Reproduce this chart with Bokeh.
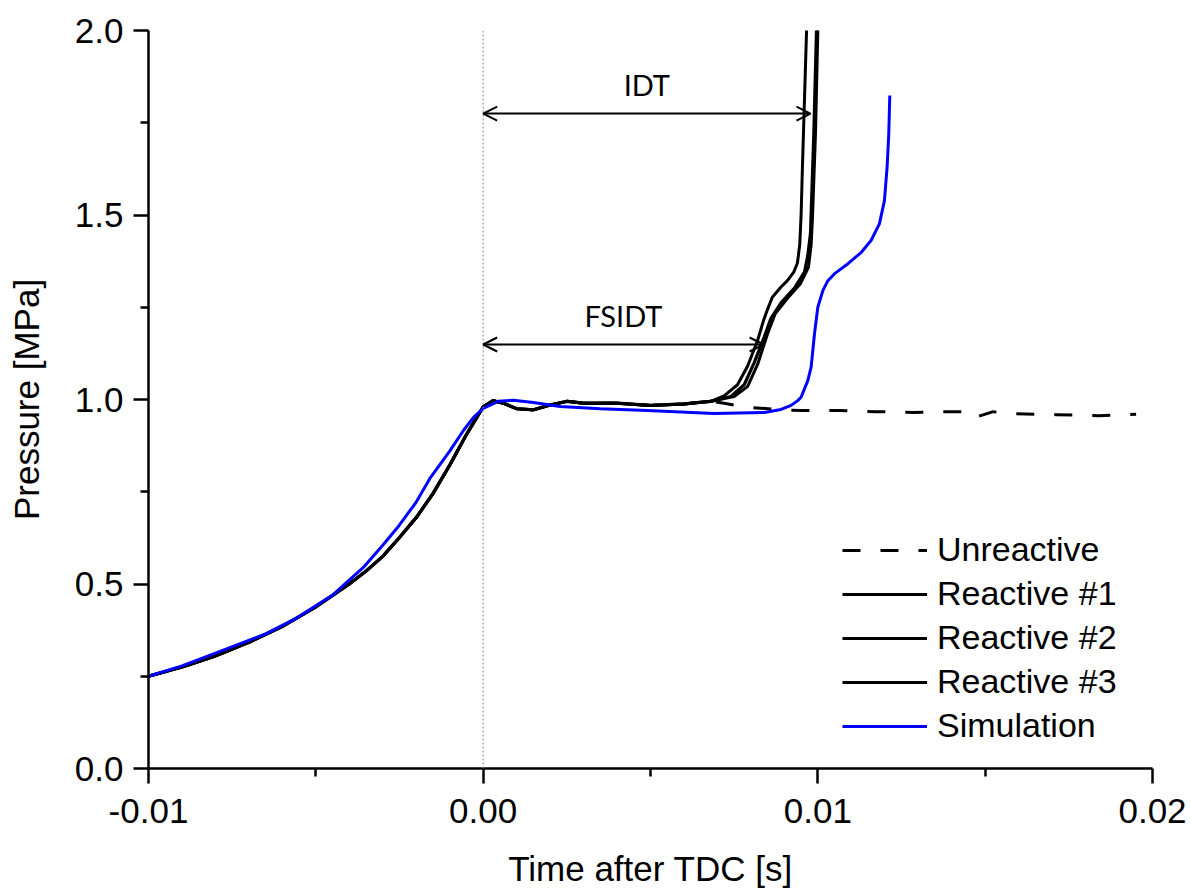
from bokeh.plotting import figure
from bokeh.models import (Range1d, NumeralTickFormatter, FixedTicker, Span, Arrow,
                          OpenHead, Label, Legend, LegendItem)
from bokeh.embed import file_html
from bokeh.resources import INLINE

# ---------------- data ----------------
# shared compression + plateau stroke of the measured traces
t_comp = [-0.010, -0.009, -0.008, -0.007, -0.006, -0.005, -0.004, -0.0035, -0.003, -0.0025,
          -0.002, -0.0015, -0.001, -0.0005, 0.0, 0.0003, 0.0006, 0.001, 0.0015,
          0.002, 0.0025, 0.003, 0.004, 0.005, 0.006, 0.0068]
p_comp = [0.250, 0.275, 0.305, 0.342, 0.385, 0.438, 0.500, 0.535, 0.575, 0.626,
          0.680, 0.745, 0.822, 0.905, 0.980, 0.997, 0.990, 0.975, 0.972,
          0.985, 0.995, 0.990, 0.990, 0.984, 0.988, 0.995]

# ignition part of each reactive run
t_r1 = [0.0072, 0.0076, 0.0079, 0.0082, 0.00838, 0.0085, 0.00864, 0.0089, 0.00909,
        0.00928, 0.00939, 0.00946, 0.0095, 0.00954, 0.0096, 0.00968]
p_r1 = [1.010, 1.040, 1.090, 1.160, 1.215, 1.245, 1.277, 1.305, 1.322,
        1.345, 1.370, 1.420, 1.500, 1.630, 1.810, 2.050]
t_r2 = [0.0074, 0.0078, 0.0081, 0.0084, 0.0086, 0.0089, 0.0093, 0.0096, 0.0097,
        0.00978, 0.00988, 0.00996, 0.0100]
p_r2 = [1.008, 1.040, 1.100, 1.170, 1.220, 1.262, 1.302, 1.345, 1.390,
        1.450, 1.720, 2.000, 2.050]
t_r3 = [0.0075, 0.0079, 0.0082, 0.0085, 0.00873, 0.0091, 0.00948, 0.00972, 0.0098,
        0.00984, 0.00993, 0.0100, 0.01003]
p_r3 = [1.008, 1.035, 1.095, 1.179, 1.233, 1.275, 1.314, 1.358, 1.420,
        1.493, 1.721, 2.000, 2.050]

# unreactive trace after the common part
t_un = [0.0072, 0.0076, 0.0080, 0.0090, 0.0095, 0.01064, 0.01174, 0.01285, 0.01392,
        0.01437, 0.01465, 0.01524, 0.01563, 0.01658, 0.01712, 0.01793, 0.0184,
        0.01897, 0.01951]
p_un = [0.990, 0.983, 0.978, 0.972, 0.970, 0.970, 0.967, 0.965, 0.967,
        0.967, 0.950, 0.967, 0.962, 0.960, 0.959, 0.957, 0.956, 0.958, 0.960]

# simulation
t_sim = [-0.010, -0.009, -0.00755, -0.0065, -0.00555, -0.0045, -0.00358, -0.003,
         -0.00256, -0.002, -0.00157, -0.001, -0.00059, -0.0003, 0.0, 0.00045, 0.0009,
         0.0015, 0.0023, 0.0035, 0.0049, 0.0069, 0.0084, 0.0089, 0.0092, 0.0094,
         0.0095, 0.0097, 0.0098, 0.0099, 0.0100, 0.01015, 0.0103, 0.0105, 0.0109,
         0.0113, 0.01159, 0.01184, 0.01199, 0.01207, 0.01212, 0.01215]
p_sim = [0.250, 0.278, 0.328, 0.365, 0.409, 0.470, 0.545, 0.605,
         0.653, 0.722, 0.789, 0.860, 0.916, 0.950, 0.976, 0.995, 0.998,
         0.992, 0.981, 0.975, 0.970, 0.962, 0.965, 0.973, 0.984, 0.997,
         1.006, 1.051, 1.088, 1.178, 1.250, 1.295, 1.322, 1.341, 1.368,
         1.399, 1.431, 1.476, 1.539, 1.630, 1.720, 1.824]

x_ticks = [-0.01, 0.0, 0.01, 0.02]
x_minor = [-0.005, 0.005, 0.015]
y_ticks = [0.0, 0.5, 1.0, 1.5, 2.0]
y_minor = [0.25, 0.75, 1.25, 1.75]

labels = ["Unreactive", "Reactive #1", "Reactive #2", "Reactive #3", "Simulation"]

# annotation arrows (time start/end, pressure level)
idt_t = [0.0, 0.00978]
idt_p = 1.775
fsidt_t = [0.0, 0.00838]
fsidt_p = 1.149
tdc_time = 0.0

# ---------------- figure ----------------
FONT = "Liberation Sans"
p = figure(width=1191, height=890, x_range=Range1d(-0.01, 0.02), y_range=Range1d(0, 2.0),
           output_backend="svg", toolbar_location=None,
           min_border_left=148, min_border_right=39, min_border_top=30, min_border_bottom=122)
p.xgrid.visible = False
p.ygrid.visible = False
p.outline_line_color = None
p.background_fill_color = "white"
p.border_fill_color = "white"

for ax, ticks, minor, fmt in [(p.xaxis[0], x_ticks, x_minor, "0.00"),
                              (p.yaxis[0], y_ticks, y_minor, "0.0")]:
    ax.ticker = FixedTicker(ticks=ticks, minor_ticks=minor)
    ax.formatter = NumeralTickFormatter(format=fmt)
    ax.axis_line_width = 2.5
    ax.major_tick_line_width = 2.5
    ax.minor_tick_line_width = 2.5
    ax.major_tick_out = 15
    ax.major_tick_in = 0
    ax.minor_tick_out = 8
    ax.minor_tick_in = 0
    ax.major_label_text_font = FONT
    ax.major_label_text_font_size = "35px"
    ax.major_label_text_color = "black"
    ax.axis_label_text_font = FONT
    ax.axis_label_text_font_size = "35px"
    ax.axis_label_text_font_style = "normal"
    ax.axis_label_text_color = "black"
    ax.axis_line_color = "black"
    ax.major_tick_line_color = "black"
    ax.minor_tick_line_color = "black"

p.xaxis.axis_label = "Time after TDC [s]"
p.yaxis.axis_label = "Pressure [MPa]"
p.xaxis.major_label_standoff = 15
p.xaxis.axis_label_standoff = 23
p.yaxis.major_label_standoff = 10
p.yaxis.axis_label_standoff = 26

# TDC dotted line
p.add_layout(Span(location=tdc_time, dimension="height", line_color="#8a8a8a",
                  line_width=1, line_dash="2 2"))

r_un = p.line(t_comp + t_un, p_comp + p_un, line_color="black", line_width=3,
              line_dash="18 20")
r1 = p.line(t_comp + t_r1, p_comp + p_r1, line_color="black", line_width=3)
r2 = p.line(t_comp + t_r2, p_comp + p_r2, line_color="black", line_width=3.2)
r3 = p.line(t_comp + t_r3, p_comp + p_r3, line_color="black", line_width=3)
r_sim = p.line(t_sim, p_sim, line_color="#0000ff", line_width=3)

# arrows and labels
for ts, lev, txt in [(idt_t, idt_p, "IDT"), (fsidt_t, fsidt_p, "FSIDT")]:
    p.add_layout(Arrow(start=OpenHead(size=14, line_width=2, line_color="black"),
                       end=OpenHead(size=14, line_width=2, line_color="black"),
                       x_start=ts[0], y_start=lev, x_end=ts[1], y_end=lev,
                       line_width=2, line_color="black"))
    p.add_layout(Label(x=(ts[0] + ts[1]) / 2, y=lev, y_offset=29, text=txt,
                       text_align="center", text_baseline="alphabetic", text_font="Lato",
                       text_font_size="29px", text_color="black"))

legend = Legend(items=[LegendItem(label=l, renderers=[r]) for l, r in
                       zip(labels, [r_un, r1, r2, r3, r_sim])],
                location=(694, 23), padding=0, margin=0, spacing=5,
                glyph_width=85, glyph_height=34, label_height=34, label_standoff=10,
                label_text_font=FONT, label_text_font_size="34px",
                label_text_color="black",
                border_line_alpha=0, background_fill_alpha=0)
p.add_layout(legend)

open("out.html", "w").write(file_html(p, INLINE))
